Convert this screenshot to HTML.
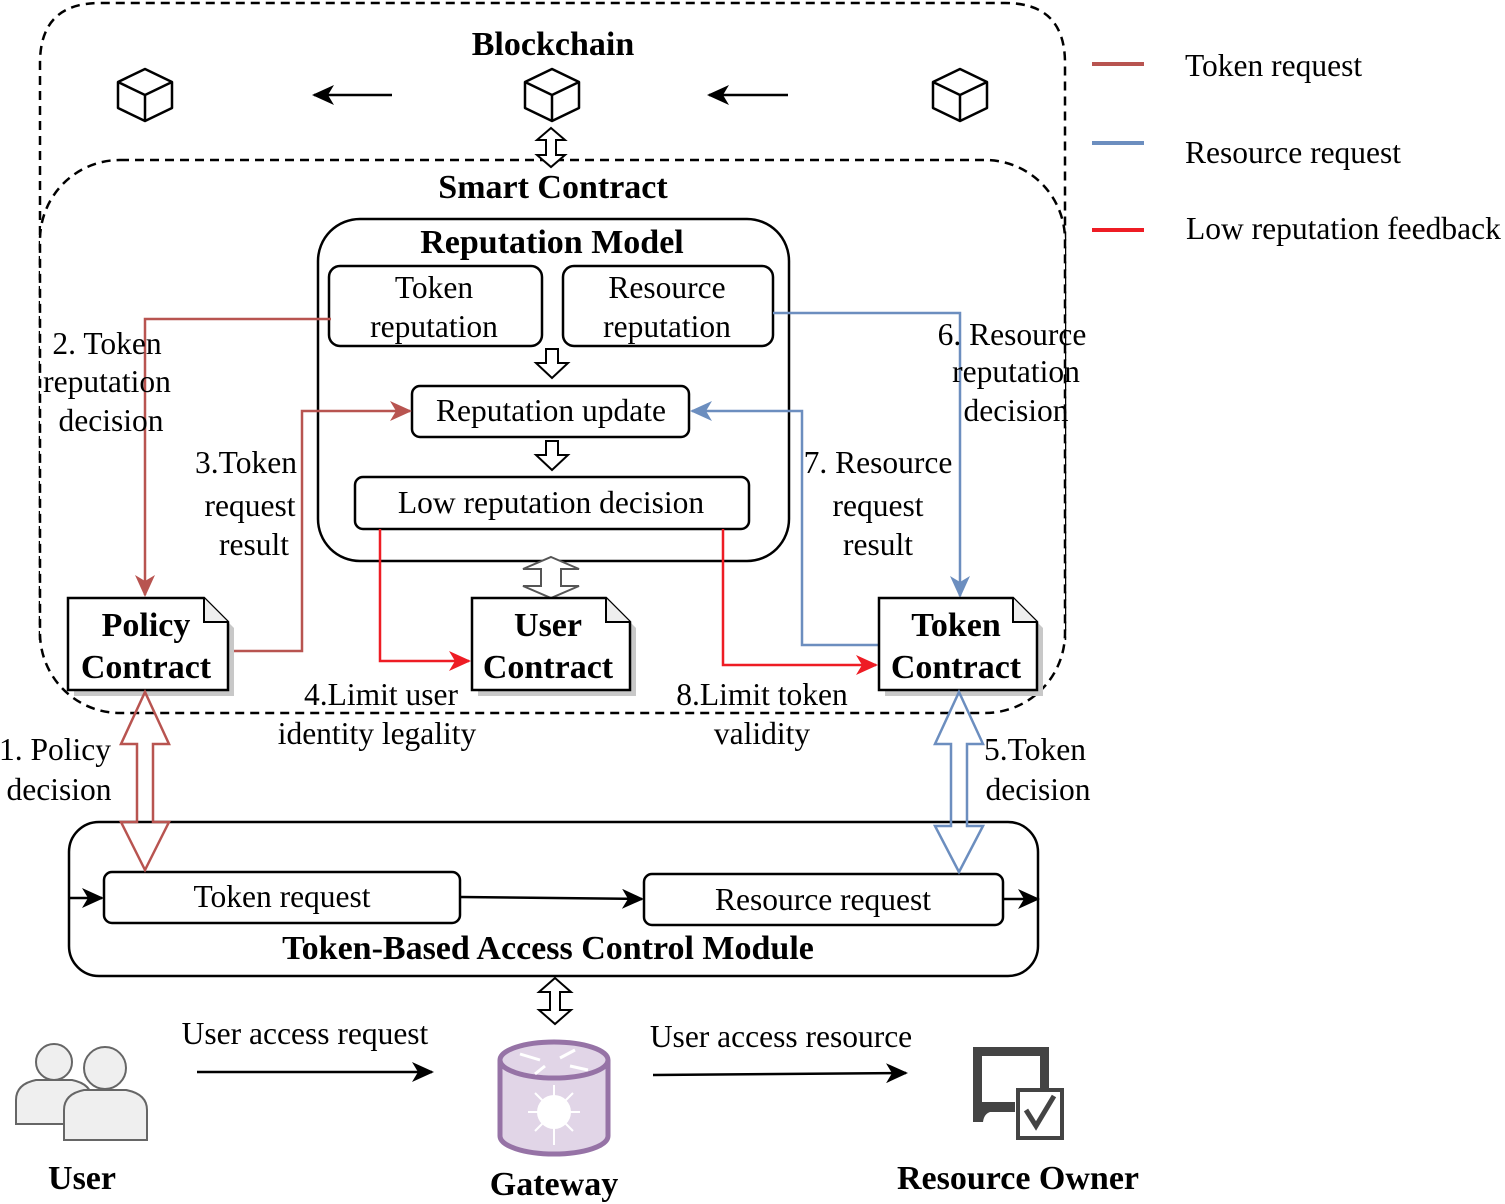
<!DOCTYPE html>
<html><head><meta charset="utf-8"><style>
html,body{margin:0;padding:0;background:#fff;}
svg{display:block;}
text{font-family:"Liberation Serif",serif;fill:#000;}
.l{font-size:31.5px;}
.b{font-size:34px;font-weight:bold;}
</style></head><body>
<svg width="1505" height="1204" viewBox="0 0 1505 1204" xmlns="http://www.w3.org/2000/svg">
<defs>
<marker id="abig" markerWidth="22" markerHeight="20" refX="20" refY="10" orient="auto" markerUnits="userSpaceOnUse"><path d="M0,0 L22,10 L0,20 L6,10z" fill="#000"/></marker>
<marker id="abr" markerWidth="22" markerHeight="20" refX="20" refY="10" orient="auto" markerUnits="userSpaceOnUse"><path d="M0,0 L22,10 L0,20 L6,10z" fill="#b85450"/></marker>
<marker id="abl" markerWidth="22" markerHeight="20" refX="20" refY="10" orient="auto" markerUnits="userSpaceOnUse"><path d="M0,0 L22,10 L0,20 L6,10z" fill="#6c8ebf"/></marker>
<marker id="ard" markerWidth="22" markerHeight="20" refX="20" refY="10" orient="auto" markerUnits="userSpaceOnUse"><path d="M0,0 L22,10 L0,20 L6,10z" fill="#ee1c24"/></marker>
</defs>

<path d="M40,640 L40,63 Q40,3 100,3 L1005,3 Q1065,3 1065,63 L1065,640" fill="none" stroke="#000" stroke-width="2.5" stroke-dasharray="9,6"/>
<rect x="40" y="160" width="1025" height="553" rx="80" fill="#fff" stroke="#000" stroke-width="2.5" stroke-dasharray="9,6"/>
<text class="b" x="553" y="55" text-anchor="middle">Blockchain</text>
<g fill="none" stroke="#000" stroke-width="2.5" stroke-linejoin="round">
<path d="M145,69 L172,82 L172,108 L145,121 L118,108 L118,82 Z M118,82 L145,95 L172,82 M145,95 L145,121"/>
<path d="M552,69 L579,82 L579,108 L552,121 L525,108 L525,82 Z M525,82 L552,95 L579,82 M552,95 L552,121"/>
<path d="M960,69 L987,82 L987,108 L960,121 L933,108 L933,82 Z M933,82 L960,95 L987,82 M960,95 L960,121"/>
</g>
<line x1="392" y1="95" x2="314" y2="95" stroke="#000" stroke-width="2.5" marker-end="url(#abig)"/>
<line x1="788" y1="95" x2="709" y2="95" stroke="#000" stroke-width="2.5" marker-end="url(#abig)"/>
<polygon points="551,128 565,140 556,140 556,155 565,155 551,167 537,155 546,155 546,140 537,140" fill="#fff" stroke="#000" stroke-width="2"/>
<text class="b" x="553" y="198" text-anchor="middle">Smart Contract</text>

<rect x="318" y="219" width="471" height="342" rx="42" fill="#fff" stroke="#000" stroke-width="2.5"/>
<text class="b" x="552" y="253" text-anchor="middle">Reputation Model</text>
<rect x="329" y="266" width="213" height="80" rx="11" fill="#fff" stroke="#000" stroke-width="2.5"/>
<text class="l" x="434" y="298" text-anchor="middle">Token</text>
<text class="l" x="434" y="337" text-anchor="middle">reputation</text>
<rect x="563" y="266" width="210" height="80" rx="11" fill="#fff" stroke="#000" stroke-width="2.5"/>
<text class="l" x="667" y="298" text-anchor="middle">Resource</text>
<text class="l" x="667" y="337" text-anchor="middle">reputation</text>
<polygon points="546,349 558,349 558,363 568,363 552,378 536,363 546,363" fill="#fff" stroke="#000" stroke-width="2"/>
<rect x="412" y="386" width="277" height="51" rx="8" fill="#fff" stroke="#000" stroke-width="2.5"/>
<text class="l" x="551" y="421" text-anchor="middle">Reputation update</text>
<polygon points="546,441 558,441 558,455 568,455 552,470 536,455 546,455" fill="#fff" stroke="#000" stroke-width="2"/>
<rect x="355" y="477" width="394" height="52" rx="8" fill="#fff" stroke="#000" stroke-width="2.5"/>
<text class="l" x="551" y="513" text-anchor="middle">Low reputation decision</text>

<polyline points="331,319 145,319 145,595" fill="none" stroke="#b85450" stroke-width="2.5" marker-end="url(#abr)"/>
<polyline points="228,651 302,651 302,411 410,411" fill="none" stroke="#b85450" stroke-width="2.5" marker-end="url(#abr)"/>
<polyline points="773,313 960,313 960,596" fill="none" stroke="#6c8ebf" stroke-width="2.5" marker-end="url(#abl)"/>
<polyline points="879,645 802,645 802,411 692,411" fill="none" stroke="#6c8ebf" stroke-width="2.5" marker-end="url(#abl)"/>
<polyline points="380,529 380,661 469,661" fill="none" stroke="#ee1c24" stroke-width="2.5" marker-end="url(#ard)"/>
<polyline points="723,529 723,665 876,665" fill="none" stroke="#ee1c24" stroke-width="2.5" marker-end="url(#ard)"/>

<polygon points="551,557 579,569 561,569 561,586 579,586 551,598 523,586 541,586 541,569 523,569" fill="#fff" stroke="#555" stroke-width="2"/>

<g>
<path d="M74,604 L210,604 L234,628 L234,696 L74,696 Z" fill="#c8c8c8"/>
<path d="M68,598 L204,598 L228,622 L228,690 L68,690 Z" fill="#fff" stroke="#000" stroke-width="2.5"/>
<path d="M204,598 L204,622 L228,622" fill="#eee" stroke="#000" stroke-width="2"/>
<text class="b" x="146" y="636" text-anchor="middle">Policy</text>
<text class="b" x="146" y="678" text-anchor="middle">Contract</text>
</g>
<g>
<path d="M478,604 L612,604 L636,628 L636,696 L478,696 Z" fill="#c8c8c8"/>
<path d="M472,598 L606,598 L630,622 L630,690 L472,690 Z" fill="#fff" stroke="#000" stroke-width="2.5"/>
<path d="M606,598 L606,622 L630,622" fill="#eee" stroke="#000" stroke-width="2"/>
<text class="b" x="548" y="636" text-anchor="middle">User</text>
<text class="b" x="548" y="678" text-anchor="middle">Contract</text>
</g>
<g>
<path d="M885,604 L1019,604 L1043,628 L1043,696 L885,696 Z" fill="#c8c8c8"/>
<path d="M879,598 L1013,598 L1037,622 L1037,690 L879,690 Z" fill="#fff" stroke="#000" stroke-width="2.5"/>
<path d="M1013,598 L1013,622 L1037,622" fill="#eee" stroke="#000" stroke-width="2"/>
<text class="b" x="956" y="636" text-anchor="middle">Token</text>
<text class="b" x="956" y="678" text-anchor="middle">Contract</text>
</g>

<g text-anchor="middle">
<text class="l" x="107" y="354">2. Token</text>
<text class="l" x="107" y="392">reputation</text>
<text class="l" x="111" y="431">decision</text>
<text class="l" x="246" y="473">3.Token</text>
<text class="l" x="250" y="516">request</text>
<text class="l" x="254" y="555">result</text>
<text class="l" x="1012" y="345">6. Resource</text>
<text class="l" x="1016" y="382">reputation</text>
<text class="l" x="1016" y="421">decision</text>
<text class="l" x="878" y="473">7. Resource</text>
<text class="l" x="878" y="516">request</text>
<text class="l" x="878" y="555">result</text>
<text class="l" x="381" y="705">4.Limit user</text>
<text class="l" x="377" y="744">identity legality</text>
<text class="l" x="762" y="705">8.Limit token</text>
<text class="l" x="762" y="744">validity</text>
<text class="l" x="55" y="760">1. Policy</text>
<text class="l" x="59" y="800">decision</text>
<text class="l" x="1035" y="760">5.Token</text>
<text class="l" x="1038" y="800">decision</text>
</g>

<rect x="69" y="822" width="969" height="154" rx="30" fill="#fff" stroke="#000" stroke-width="2.5"/>
<rect x="104" y="872" width="356" height="51" rx="8" fill="#fff" stroke="#000" stroke-width="2.5"/>
<text class="l" x="282" y="907" text-anchor="middle">Token request</text>
<rect x="644" y="874" width="359" height="51" rx="8" fill="#fff" stroke="#000" stroke-width="2.5"/>
<text class="l" x="823" y="910" text-anchor="middle">Resource request</text>
<line x1="69" y1="898" x2="102" y2="898" stroke="#000" stroke-width="2.5" marker-end="url(#abig)"/>
<line x1="460" y1="897" x2="642" y2="899" stroke="#000" stroke-width="2.5" marker-end="url(#abig)"/>
<line x1="1003" y1="899" x2="1038" y2="899" stroke="#000" stroke-width="2.5" marker-end="url(#abig)"/>
<text class="b" x="548" y="959" text-anchor="middle">Token-Based Access Control Module</text>

<polygon points="145,692 169,744 153,744 153,822 169,822 145,870 121,822 137,822 137,744 121,744" fill="none" stroke="#b85450" stroke-width="2.5"/>
<polygon points="959,692 983,744 967,744 967,826 983,826 959,872 935,826 951,826 951,744 935,744" fill="none" stroke="#6c8ebf" stroke-width="2.5"/>
<polygon points="555,978 571,992 560,992 560,1010 571,1010 555,1024 539,1010 550,1010 550,992 539,992" fill="#fff" stroke="#000" stroke-width="2"/>

<text class="l" x="305" y="1044" text-anchor="middle">User access request</text>
<text class="l" x="781" y="1047" text-anchor="middle">User access resource</text>
<line x1="197" y1="1072" x2="432" y2="1072" stroke="#000" stroke-width="2.5" marker-end="url(#abig)"/>
<line x1="653" y1="1075" x2="906" y2="1073" stroke="#000" stroke-width="2.5" marker-end="url(#abig)"/>

<g fill="#efefef" stroke="#666" stroke-width="2">
<circle cx="54" cy="1062" r="18"/>
<path d="M16,1124 L16,1100 Q16,1084 36,1080 L72,1080 Q92,1084 92,1100 L92,1124 Z"/>
<circle cx="105" cy="1068" r="21"/>
<path d="M64,1140 L64,1110 Q64,1094 84,1090 L126,1090 Q147,1094 147,1110 L147,1140 Z"/>
</g>
<text class="b" x="82" y="1189" text-anchor="middle">User</text>

<g>
<path d="M500,1060 L500,1136 A54,18 0 0 0 608,1136 L608,1060" fill="#e1d5e7" stroke="#9673a6" stroke-width="5"/>
<ellipse cx="554" cy="1060" rx="54" ry="18" fill="#e1d5e7" stroke="#9673a6" stroke-width="5"/>
<circle cx="554" cy="1112" r="17" fill="#fff"/>
<g stroke="#fff" stroke-width="2">
<line x1="554" y1="1112" x2="554" y2="1085"/><line x1="554" y1="1112" x2="554" y2="1145"/>
<line x1="554" y1="1112" x2="528" y2="1112"/><line x1="554" y1="1112" x2="580" y2="1112"/>
<line x1="554" y1="1112" x2="535" y2="1093"/><line x1="554" y1="1112" x2="573" y2="1093"/>
<line x1="554" y1="1112" x2="535" y2="1131"/><line x1="554" y1="1112" x2="573" y2="1131"/>
<line x1="520" y1="1054" x2="540" y2="1060" stroke-width="3"/><line x1="560" y1="1058" x2="575" y2="1050" stroke-width="3"/>
<line x1="570" y1="1066" x2="588" y2="1070" stroke-width="3"/><line x1="545" y1="1066" x2="535" y2="1074" stroke-width="3"/>
</g>
</g>
<text class="b" x="554" y="1195" text-anchor="middle">Gateway</text>

<g>
<path d="M973,1047 L1049,1047 L1049,1088 L1040,1088 L1040,1056 L982,1056 L982,1102 L1015,1102 L1015,1112 L990,1112 Q984,1114 983,1122 L973,1122 Z" fill="#444"/>
<rect x="1018" y="1090" width="44" height="48" fill="#fff" stroke="#444" stroke-width="4"/>
<path d="M1026,1110 L1036,1126 L1054,1096" fill="none" stroke="#444" stroke-width="5"/>
</g>
<text class="b" x="1018" y="1189" text-anchor="middle">Resource Owner</text>

<line x1="1092" y1="64" x2="1144" y2="64" stroke="#b85450" stroke-width="4"/>
<line x1="1092" y1="143" x2="1144" y2="143" stroke="#6c8ebf" stroke-width="4"/>
<line x1="1092" y1="230" x2="1144" y2="230" stroke="#ee1c24" stroke-width="4"/>
<text class="l" x="1185" y="76">Token request</text>
<text class="l" x="1185" y="163">Resource request</text>
<text class="l" x="1186" y="239">Low reputation feedback</text>
</svg>
</body></html>
